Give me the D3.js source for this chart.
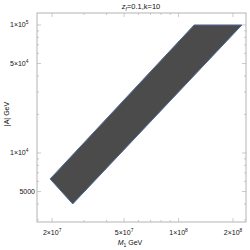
<!DOCTYPE html>
<html><head><meta charset="utf-8">
<script src="https://cdn.jsdelivr.net/npm/d3@7"></script>
<style>body{margin:0;background:#fff}svg{display:block}text{font-family:"Liberation Sans",Arial,sans-serif}</style>
</head><body><svg id="c" width="250" height="250"></svg>
<script>
// Region boundary vertices (M1 in GeV, |A| in GeV)
const regionM1 = [1.95e7, 2.6e7, 2.24e8, 1.22e8];
const regionA  = [6270, 4000, 1e5, 1e5];
const xMajor = [2e7, 5e7, 1e8, 2e8];
const xMajorMant = ["2", "5", "1", "2"];
const xMajorExp = ["7", "7", "8", "8"];
const xMinor = [3e7, 4e7, 6e7, 7e7, 8e7, 9e7];
const yMajor = [5000, 1e4, 5e4, 1e5];
const yMinor = [3000, 4000, 6000, 7000, 8000, 9000, 2e4, 3e4, 4e4, 6e4, 7e4, 8e4, 9e4];

const svg = d3.select("#c");
const L = 37, R = 246, T = 13, B = 222;
const x = d3.scaleLog().domain([1.65e7, 2.36e8]).range([L, R]);
const y = d3.scaleLog().domain([2890, 1.24e5]).range([B, T]);

// region
const pts = regionM1.map((m, i) => [x(m), y(regionA[i])]);
svg.append("path").attr("d", d3.line()(pts) + "Z")
  .attr("fill", "#4b4b4b").attr("stroke", "#4d6b9c").attr("stroke-width", 1);

// frame
svg.append("rect").attr("x", L).attr("y", T).attr("width", R - L).attr("height", B - T)
  .attr("fill", "none").attr("stroke", "#b4b4b4").attr("stroke-width", 1);

const tc = "#b4b4b4";
function xt(v, len) {
  svg.append("line").attr("x1", x(v)).attr("x2", x(v)).attr("y1", B).attr("y2", B - len).attr("stroke", tc).attr("stroke-width", 0.7);
  svg.append("line").attr("x1", x(v)).attr("x2", x(v)).attr("y1", T).attr("y2", T + len).attr("stroke", tc).attr("stroke-width", 0.7);
}
function yt(v, len) {
  svg.append("line").attr("y1", y(v)).attr("y2", y(v)).attr("x1", L).attr("x2", L + len).attr("stroke", tc).attr("stroke-width", 0.7);
  svg.append("line").attr("y1", y(v)).attr("y2", y(v)).attr("x1", R).attr("x2", R - len).attr("stroke", tc).attr("stroke-width", 0.7);
}
xMajor.forEach(v => xt(v, 4));
xMinor.forEach(v => xt(v, 2));
yMajor.forEach(v => yt(v, 4));
yMinor.forEach(v => yt(v, 2));

// x tick labels
xMajor.forEach((v, i) => {
  const t = svg.append("text").attr("x", x(v)).attr("y", 235).attr("text-anchor", "middle")
    .attr("font-size", 7).attr("fill", "#111");
  t.append("tspan").text(xMajorMant[i] + "\u00d710");
  t.append("tspan").attr("dy", -3).attr("font-size", 4.8).text(xMajorExp[i]);
});
// y tick labels
const yLab = [null, ["1", "4"], ["5", "4"], ["1", "5"]];
yMajor.forEach((v, i) => {
  if (yLab[i] === null) {
    svg.append("text").attr("x", 35).attr("y", y(v) + 2.5).attr("text-anchor", "end")
      .attr("font-size", 7).attr("fill", "#111").text("5000");
  } else {
    const t = svg.append("text").attr("x", 10).attr("y", y(v) + 2.5).attr("text-anchor", "start")
      .attr("font-size", 7).attr("fill", "#111");
    t.append("tspan").text(yLab[i][0] + "\u00d710");
    t.append("tspan").attr("dy", -3).attr("font-size", 4.8).text(yLab[i][1]);
  }
});

// axis labels
const xl = svg.append("text").attr("x", 130).attr("y", 245).attr("text-anchor", "middle").attr("font-size", 7).attr("fill", "#111");
xl.append("tspan").attr("font-style", "italic").text("M");
xl.append("tspan").attr("dy", 1.5).attr("font-size", 5).text("1");
xl.append("tspan").attr("dy", -1.5).text(" GeV");

svg.append("text").attr("transform", "translate(9,114) rotate(-90)").attr("text-anchor", "middle")
  .attr("font-size", 7).attr("fill", "#111").text("|A| GeV");

// title
const tt = svg.append("text").attr("x", 141).attr("y", 9).attr("text-anchor", "middle").attr("font-size", 7.5).attr("fill", "#111");
tt.append("tspan").attr("font-style", "italic").text("z");
tt.append("tspan").attr("dy", 1.5).attr("font-size", 5).attr("font-style", "italic").text("f");
tt.append("tspan").attr("dy", -1.5).text("=0.1,k=10");
</script></body></html>
